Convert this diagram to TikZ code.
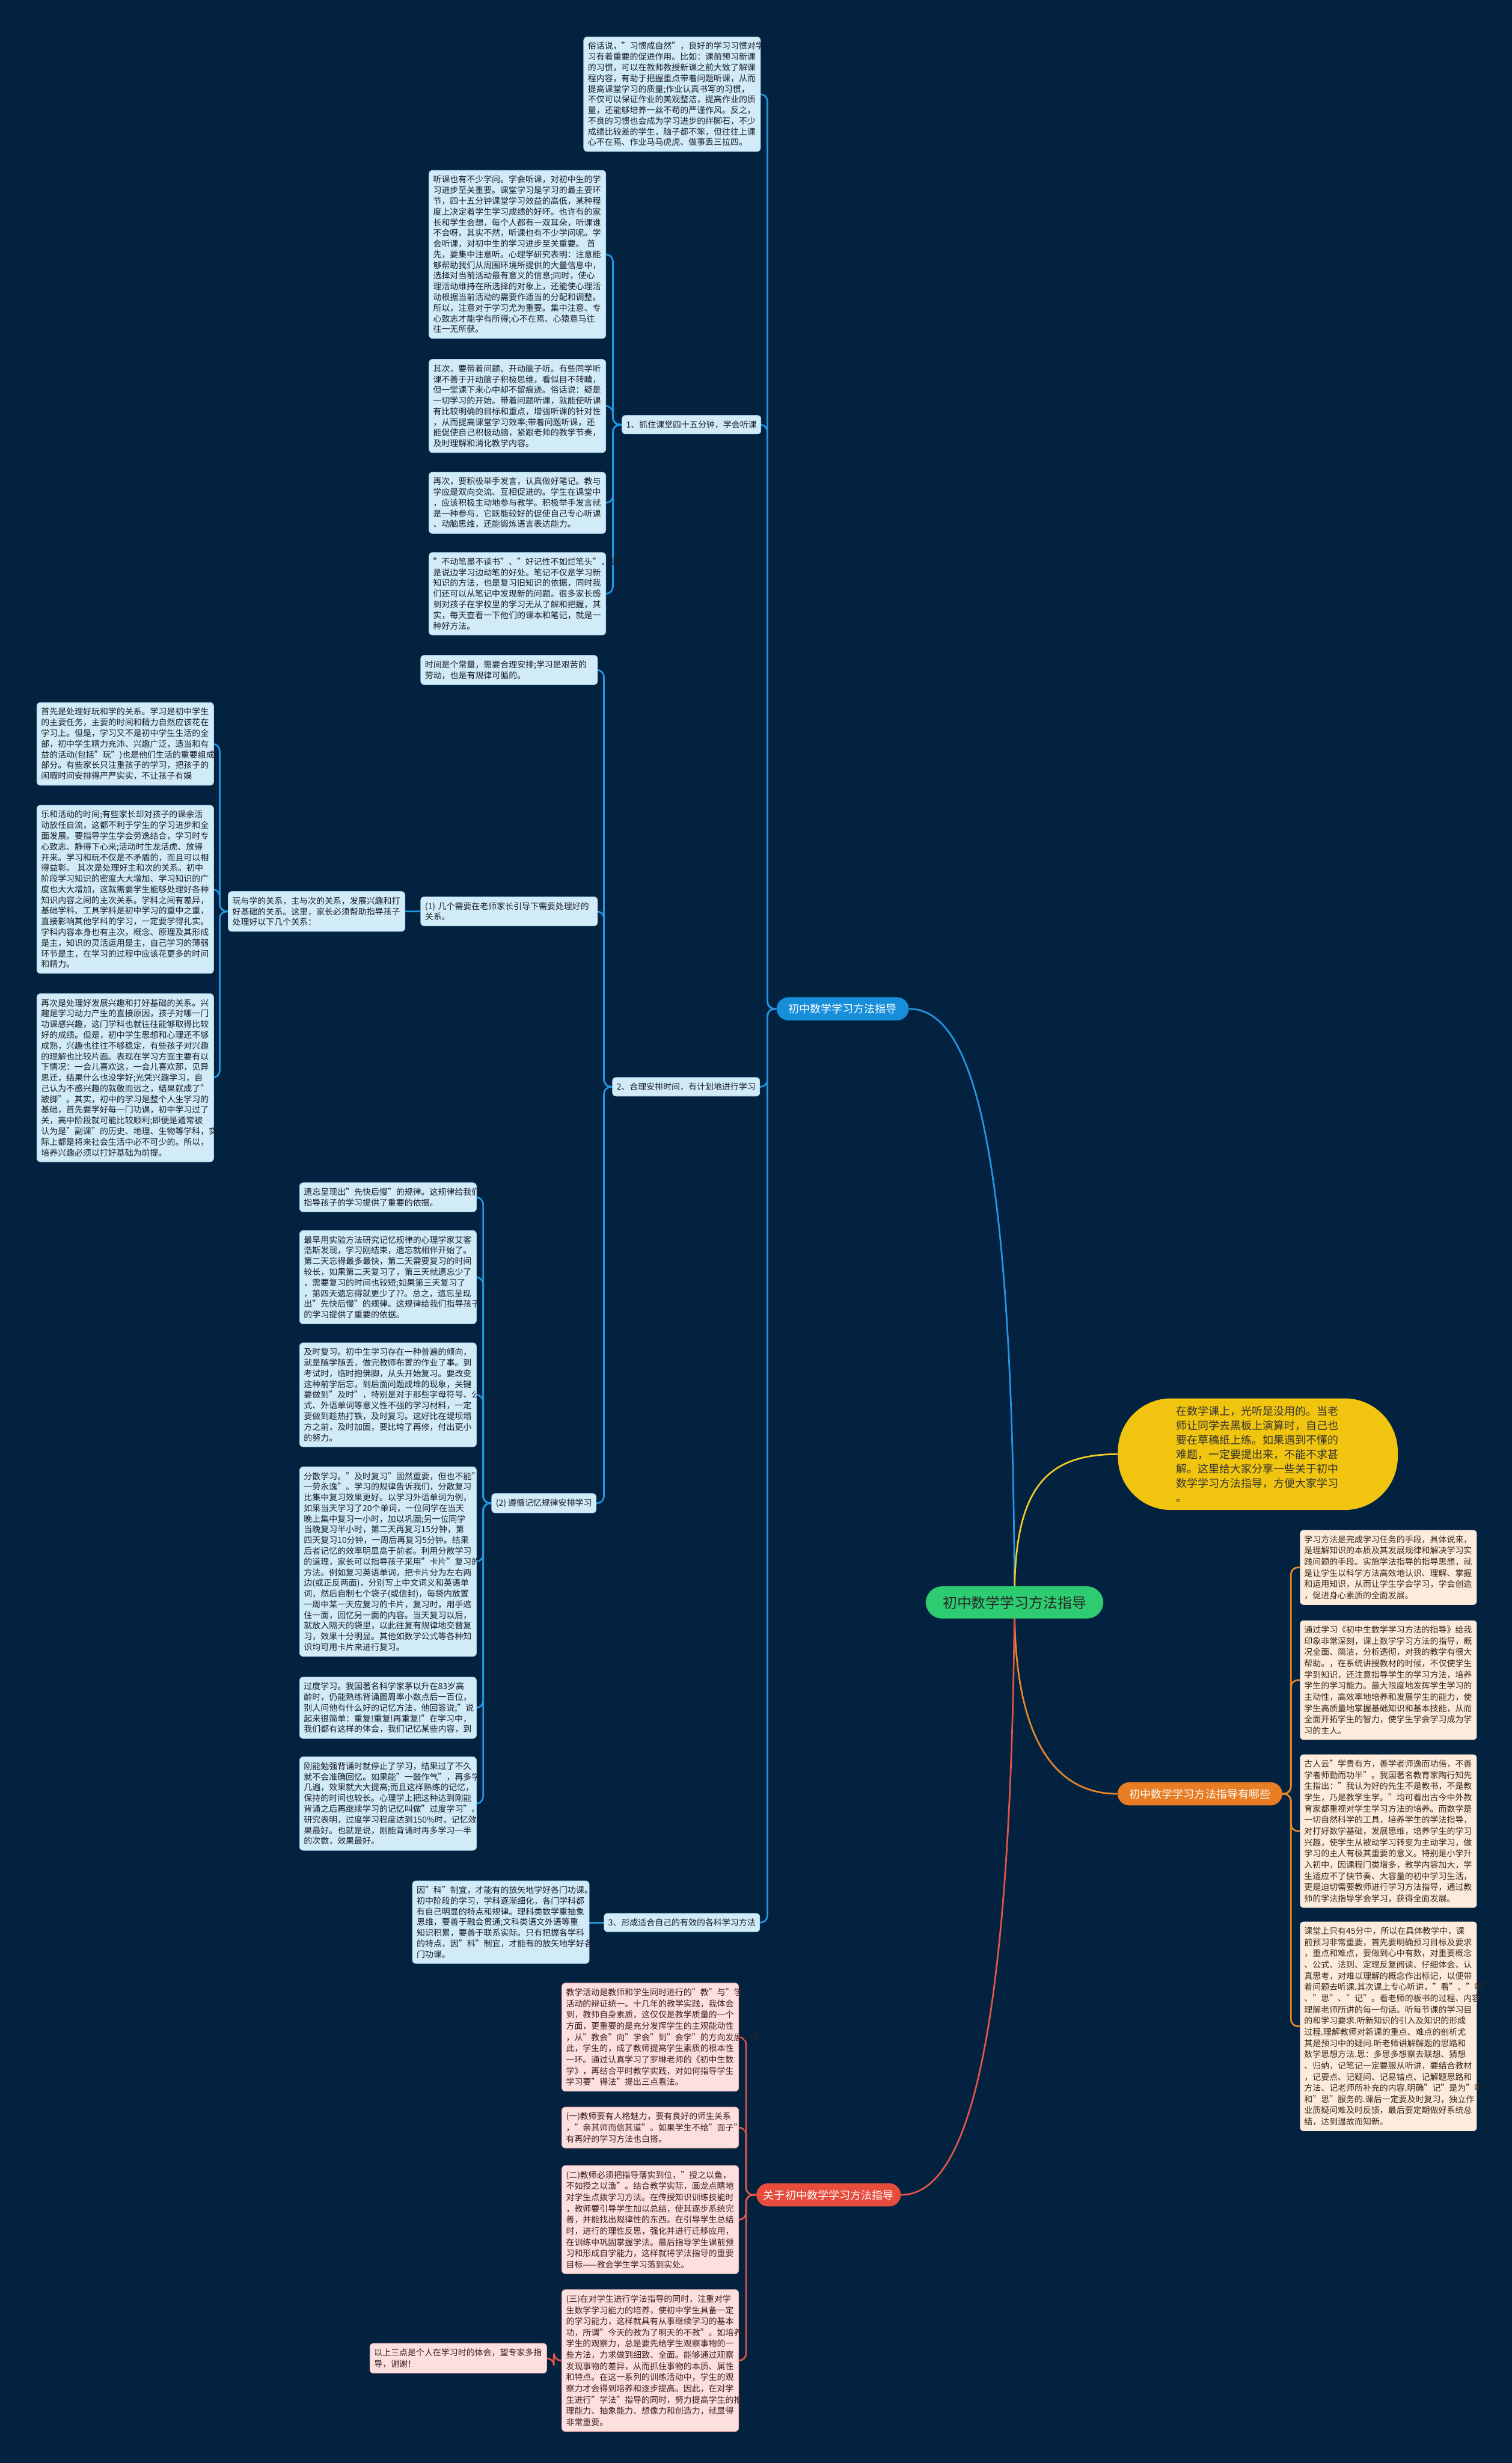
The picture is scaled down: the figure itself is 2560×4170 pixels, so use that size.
\documentclass[tikz,border=0pt]{standalone}
\usepackage{fontspec}
\setmainfont{Noto Sans CJK SC}
\usetikzlibrary{backgrounds}
\definecolor{bgc}{RGB}{3,34,64}
\definecolor{bfill}{RGB}{209,235,248}
\definecolor{bdraw}{RGB}{170,210,235}
\definecolor{btext}{RGB}{25,30,40}
\definecolor{bline}{RGB}{35,150,225}
\definecolor{bnode}{RGB}{22,142,218}
\definecolor{gnode}{RGB}{46,204,113}
\definecolor{ynode}{RGB}{241,196,15}
\definecolor{yline}{RGB}{240,200,40}
\definecolor{onode}{RGB}{232,125,35}
\definecolor{oline}{RGB}{230,135,45}
\definecolor{rnode}{RGB}{231,76,60}
\definecolor{rline}{RGB}{225,85,70}
\definecolor{rfill}{RGB}{253,236,220}
\definecolor{rtext}{RGB}{55,40,25}
\definecolor{pfill}{RGB}{252,224,222}
\definecolor{pdraw}{RGB}{235,175,170}
\definecolor{ptext}{RGB}{60,30,30}
\tikzset{
 boxbase/.style={rounded corners=3pt, inner xsep=3.6pt, inner ysep=4.5pt, line width=0.4pt},
 bbox/.style={boxbase, draw=bdraw, fill=bfill, text=btext, align=left, text width=142.5pt, anchor=north west, font=\fontsize{7.1pt}{9.05pt}\selectfont},
 blab/.style={boxbase, draw=bdraw, fill=bfill, text=btext, anchor=east, font=\fontsize{7.1pt}{9.05pt}\selectfont},
 rbox/.style={boxbase, fill=rfill, text=rtext, align=left, text width=142.5pt, anchor=north west, font=\fontsize{7.1pt}{9.5pt}\selectfont},
 pbox/.style={boxbase, draw=pdraw, fill=pfill, text=ptext, align=left, text width=142.5pt, anchor=north west, font=\fontsize{7.1pt}{9.5pt}\selectfont},
 topic/.style={rounded corners=10pt, inner xsep=10pt, inner ysep=5.5pt, text=white, font=\fontsize{9.2pt}{11pt}\selectfont},
 bconn/.style={draw=bline, line width=1.4pt, rounded corners=6pt},
 oconn/.style={draw=oline, line width=1.4pt, rounded corners=6pt},
 rconn/.style={draw=rline, line width=1.4pt, rounded corners=6pt},
 yconn/.style={draw=yline, line width=1.4pt},
}
\begin{document}
\begin{tikzpicture}[x=0.5pt,y=-0.5pt]
\useasboundingbox (0,0) rectangle (2560,4170);
% ---------- central and main topics
\node[rounded corners=14pt, fill=gnode, text=black!85, inner xsep=14.5pt, inner ysep=8pt, font=\fontsize{12.15pt}{14pt}\selectfont] (C) at (1718,2713) {初中数学学习方法指导};
\node[topic, fill=bnode] (BL) at (1427,1708) {初中数学学习方法指导};
\node[topic, fill=onode] (OR) at (2032,3037) {初中数学学习方法指导有哪些};
\node[topic, fill=rnode, anchor=east, inner xsep=6pt] (RD) at (1526,3716) {关于初中数学学习方法指导};
\node[fill=ynode, rounded corners=45pt, minimum width=237pt, minimum height=94.5pt, text width=138pt, align=left, text=black!80, font=\fontsize{9.15pt}{12.25pt}\selectfont] (Y) at (2130,2462) {在数学课上，光听是没用的。当老\\
师让同学去黑板上演算时，自己也\\
要在草稿纸上练。如果遇到不懂的\\
难题，一定要提出来，不能不求甚\\
解。这里给大家分享一些关于初中\\
数学学习方法指导，方便大家学习\\
。};
% ---------- blue branch
\node[bbox] (T) at (988,62) {俗话说，"习惯成自然"，良好的学习习惯对学\\
习有着重要的促进作用。比如：课前预习新课\\
的习惯，可以在教师教授新课之前大致了解课\\
程内容，有助于把握重点带着问题听课，从而\\
提高课堂学习的质量;作业认真书写的习惯，\\
不仅可以保证作业的美观整洁，提高作业的质\\
量，还能够培养一丝不苟的严谨作风。反之，\\
不良的习惯也会成为学习进步的绊脚石，不少\\
成绩比较差的学生，脑子都不笨，但往往上课\\
心不在焉、作业马马虎虎、做事丢三拉四。};
\node[blab] (LA) at (1289,719) {1、抓住课堂四十五分钟，学会听课};
\node[bbox] (B1) at (726,288) {听课也有不少学问。学会听课，对初中生的学\\
习进步至关重要。课堂学习是学习的最主要环\\
节，四十五分钟课堂学习效益的高低，某种程\\
度上决定着学生学习成绩的好坏。也许有的家\\
长和学生会想，每个人都有一双耳朵，听课谁\\
不会呀。其实不然，听课也有不少学问呢。学\\
会听课，对初中生的学习进步至关重要。 首\\
先，要集中注意听。心理学研究表明：注意能\\
够帮助我们从周围环境所提供的大量信息中，\\
选择对当前活动最有意义的信息;同时，使心\\
理活动维持在所选择的对象上，还能使心理活\\
动根据当前活动的需要作适当的分配和调整。\\
所以，注意对于学习尤为重要。集中注意、专\\
心致志才能学有所得;心不在焉、心猿意马往\\
往一无所获。};
\node[bbox] (B2) at (726,608) {其次，要带着问题、开动脑子听。有些同学听\\
课不善于开动脑子积极思维，看似目不转睛，\\
但一堂课下来心中却不留痕迹。俗话说：疑是\\
一切学习的开始。带着问题听课，就能使听课\\
有比较明确的目标和重点，增强听课的针对性\\
，从而提高课堂学习效率;带着问题听课，还\\
能促使自己积极动脑，紧跟老师的教学节奏，\\
及时理解和消化教学内容。};
\node[bbox] (B3) at (726,799) {再次，要积极举手发言，认真做好笔记。教与\\
学应是双向交流、互相促进的。学生在课堂中\\
，应该积极主动地参与教学。积极举手发言就\\
是一种参与，它既能较好的促使自己专心听课\\
、动脑思维，还能锻炼语言表达能力。};
\node[bbox] (B4) at (726,935) {"不动笔墨不读书"、"好记性不如烂笔头"，都\\
是说边学习边动笔的好处。笔记不仅是学习新\\
知识的方法，也是复习旧知识的依据，同时我\\
们还可以从笔记中发现新的问题。很多家长感\\
到对孩子在学校里的学习无从了解和把握，其\\
实，每天查看一下他们的课本和笔记，就是一\\
种好方法。};
\node[blab] (LB) at (1287,1840) {2、合理安排时间，有计划地进行学习};
\node[bbox] (TM) at (712,1109) {时间是个常量，需要合理安排;学习是艰苦的\\
劳动，也是有规律可循的。};
\node[bbox] (S1) at (712,1518) {(1) 几个需要在老师家长引导下需要处理好的\\
关系。};
\node[bbox] (WX) at (386,1509) {玩与学的关系，主与次的关系，发展兴趣和打\\
好基础的关系。这里，家长必须帮助指导孩子\\
处理好以下几个关系：};
\node[bbox] (L1) at (62,1189) {首先是处理好玩和学的关系。学习是初中学生\\
的主要任务，主要的时间和精力自然应该花在\\
学习上。但是，学习又不是初中学生生活的全\\
部，初中学生精力充沛、兴趣广泛，适当和有\\
益的活动(包括"玩")也是他们生活的重要组成\\
部分。有些家长只注重孩子的学习，把孩子的\\
闲暇时间安排得严严实实，不让孩子有娱};
\node[bbox] (L2) at (62,1363) {乐和活动的时间;有些家长却对孩子的课余活\\
动放任自流，这都不利于学生的学习进步和全\\
面发展。要指导学生学会劳逸结合，学习时专\\
心致志、静得下心来;活动时生龙活虎、放得\\
开来。学习和玩不仅是不矛盾的，而且可以相\\
得益彰。 其次是处理好主和次的关系。初中\\
阶段学习知识的密度大大增加、学习知识的广\\
度也大大增加，这就需要学生能够处理好各种\\
知识内容之间的主次关系。学科之间有差异，\\
基础学科、工具学科是初中学习的重中之重，\\
直接影响其他学科的学习，一定要学得扎实。\\
学科内容本身也有主次，概念、原理及其形成\\
是主，知识的灵活运用是主，自己学习的薄弱\\
环节是主，在学习的过程中应该花更多的时间\\
和精力。};
\node[bbox] (L3) at (62,1682) {再次是处理好发展兴趣和打好基础的关系。兴\\
趣是学习动力产生的直接原因，孩子对哪一门\\
功课感兴趣，这门学科也就往往能够取得比较\\
好的成绩。但是，初中学生思想和心理还不够\\
成熟，兴趣也往往不够稳定，有些孩子对兴趣\\
的理解也比较片面。表现在学习方面主要有以\\
下情况：一会儿喜欢这，一会儿喜欢那，见异\\
思迁，结果什么也没学好;光凭兴趣学习，自\\
己认为不感兴趣的就敬而远之，结果就成了"\\
跛脚"。其实，初中的学习是整个人生学习的\\
基础，首先要学好每一门功课，初中学习过了\\
关，高中阶段就可能比较顺利;即便是通常被\\
认为是"副课"的历史、地理、生物等学科，实\\
际上都是将来社会生活中必不可少的。所以，\\
培养兴趣必须以打好基础为前提。};
\node[blab] (S2) at (1010,2545) {(2) 遵循记忆规律安排学习};
\node[bbox] (M1) at (507,2002) {遗忘呈现出"先快后慢"的规律。这规律给我们\\
指导孩子的学习提供了重要的依据。};
\node[bbox] (M2) at (507,2083) {最早用实验方法研究记忆规律的心理学家艾客\\
浩斯发现，学习刚结束，遗忘就相伴开始了。\\
第二天忘得最多最快，第二天需要复习的时间\\
较长，如果第二天复习了，第三天就遗忘少了\\
，需要复习的时间也较短;如果第三天复习了\\
，第四天遗忘得就更少了??。总之，遗忘呈现\\
出"先快后慢"的规律。这规律给我们指导孩子\\
的学习提供了重要的依据。};
\node[bbox] (M3) at (507,2273) {及时复习。初中生学习存在一种普遍的倾向，\\
就是随学随丢，做完教师布置的作业了事。到\\
考试时，临时抱佛脚，从头开始复习。要改变\\
这种前学后忘，到后面问题成堆的现象，关键\\
要做到"及时"，特别是对于那些字母符号、公\\
式、外语单词等意义性不强的学习材料，一定\\
要做到趁热打铁，及时复习。这好比在堤坝塌\\
方之前，及时加固，要比垮了再修，付出更小\\
的努力。};
\node[bbox] (M4) at (507,2483) {分散学习。"及时复习"固然重要，但也不能"\\
一劳永逸"。学习的规律告诉我们，分散复习\\
比集中复习效果更好。以学习外语单词为例，\\
如果当天学习了20个单词，一位同学在当天\\
晚上集中复习一小时，加以巩固;另一位同学\\
当晚复习半小时，第二天再复习15分钟，第\\
四天复习10分钟，一周后再复习5分钟。结果\\
后者记忆的效率明显高于前者。利用分散学习\\
的道理，家长可以指导孩子采用"卡片"复习的\\
方法。例如复习英语单词，把卡片分为左右两\\
边(或正反两面)，分别写上中文词义和英语单\\
词，然后自制七个袋子(或信封)，每袋内放置\\
一周中某一天应复习的卡片，复习时，用手遮\\
住一面，回忆另一面的内容。当天复习以后，\\
就放入隔天的袋里，以此往复有规律地交替复\\
习，效果十分明显。其他如数学公式等各种知\\
识均可用卡片来进行复习。};
\node[bbox] (M5) at (507,2839) {过度学习。我国著名科学家茅以升在83岁高\\
龄时，仍能熟练背诵圆周率小数点后一百位，\\
别人问他有什么好的记忆方法，他回答说;"说\\
起来很简单：重复!重复!再重复!"在学习中，\\
我们都有这样的体会，我们记忆某些内容，到};
\node[bbox] (M6) at (507,2974) {刚能勉强背诵时就停止了学习，结果过了不久\\
就不会准确回忆。如果能"一鼓作气"，再多学\\
几遍，效果就大大提高;而且这样熟练的记忆，\\
保持的时间也较长。心理学上把这种达到刚能\\
背诵之后再继续学习的记忆叫做"过度学习"。\\
研究表明，过度学习程度达到150\%时，记忆效\\
果最好。也就是说，刚能背诵时再多学习一半\\
的次数，效果最好。};
\node[blab] (LC) at (1287,3255) {3、形成适合自己的有效的各科学习方法};
\node[bbox] (K) at (698,3184) {因"科"制宜，才能有的放矢地学好各门功课。\\
初中阶段的学习，学科逐渐细化，各门学科都\\
有自己明显的特点和规律。理科类数学重抽象\\
思维，要善于融会贯通;文科类语文外语等重\\
知识积累，要善于联系实际。只有把握各学科\\
的特点，因"科"制宜，才能有的放矢地学好各\\
门功课。};
% ---------- orange branch
\node[rbox] (R1) at (2201,2590) {学习方法是完成学习任务的手段，具体说来，\\
是理解知识的本质及其发展规律和解决学习实\\
践问题的手段。实施学法指导的指导思想，就\\
是让学生以科学方法高效地认识、理解、掌握\\
和运用知识，从而让学生学会学习，学会创造\\
，促进身心素质的全面发展。};
\node[rbox] (R2) at (2201,2743) {通过学习《初中生数学学习方法的指导》给我\\
印象非常深刻，课上数学学习方法的指导，概\\
况全面、简洁，分析透彻，对我的教学有很大\\
帮助。，在系统讲授教材的时候，不仅使学生\\
学到知识，还注意指导学生的学习方法，培养\\
学生的学习能力。最大限度地发挥学生学习的\\
主动性，高效率地培养和发展学生的能力，使\\
学生高质量地掌握基础知识和基本技能，从而\\
全面开拓学生的智力，使学生学会学习成为学\\
习的主人。};
\node[rbox] (R3) at (2201,2970) {古人云"学贵有方，善学者师逸而功倍，不善\\
学者师勤而功半"。我国著名教育家陶行知先\\
生指出："我认为好的先生不是教书，不是教\\
学生，乃是教学生学。"均可看出古今中外教\\
育家都重视对学生学习方法的培养。而数学是\\
一切自然科学的工具，培养学生的学法指导，\\
对打好数学基础，发展思维，培养学生的学习\\
兴趣，使学生从被动学习转变为主动学习，做\\
学习的主人有极其重要的意义。特别是小学升\\
入初中，因课程门类增多，教学内容加大，学\\
生适应不了快节奏、大容量的初中学习生活，\\
更是迫切需要教师进行学习方法指导，通过教\\
师的学法指导学会学习，获得全面发展。};
\node[rbox] (R4) at (2201,3253) {课堂上只有45分中，所以在具体教学中，课\\
前预习非常重要，首先要明确预习目标及要求\\
，重点和难点，要做到心中有数，对重要概念\\
、公式、法则、定理反复阅读、仔细体会、认\\
真思考，对难以理解的概念作出标记，以便带\\
着问题去听课.其次课上专心听讲，"看"、"听"\\
、"思"、"记"。看老师的板书的过程、内容、\\
理解老师所讲的每一句话。听每节课的学习目\\
的和学习要求.听新知识的引入及知识的形成\\
过程.理解教师对新课的重点、难点的剖析尤\\
其是预习中的疑问.听老师讲解解题的思路和\\
数学思想方法.思：多思多想察去联想、猜想\\
、归纳，记笔记一定要服从听讲，要结合教材\\
，记要点、记疑问、记易错点、记解题思路和\\
方法、记老师所补充的内容.明确"记"是为"听"\\
和"思"服务的.课后一定要及时复习，独立作\\
业质疑问难及时反馈，最后要定期做好系统总\\
结，达到温故而知新。};
% ---------- red branch
\node[pbox] (P1) at (951,3357) {教学活动是教师和学生同时进行的"教"与"学"\\
活动的辩证统一。十几年的教学实践，我体会\\
到，教师自身素质，这仅仅是教学质量的一个\\
方面，更重要的是充分发挥学生的主观能动性\\
，从"教会"向"学会"到"会学"的方向发展，因\\
此，学生的，成了教师提高学生素质的根本性\\
一环。通过认真学习了罗琳老师的《初中生数\\
学》，再结合平时教学实践，对如何指导学生\\
学习要"得法"提出三点看法。};
\node[pbox] (P2) at (951,3567) {(一)教师要有人格魅力，要有良好的师生关系\\
，"亲其师而信其道"。如果学生不给"面子"，\\
有再好的学习方法也白搭。};
\node[pbox] (P3) at (951,3666) {(二)教师必须把指导落实到位，"授之以鱼，\\
不如授之以渔"。结合教学实际，画龙点睛地\\
对学生点拨学习方法。在传授知识训练技能时\\
，教师要引导学生加以总结，使其逐步系统完\\
善，并能找出规律性的东西。在引导学生总结\\
时，进行的理性反思，强化并进行迁移应用，\\
在训练中巩固掌握学法。最后指导学生课前预\\
习和形成自学能力，这样就将学法指导的重要\\
目标——教会学生学习落到实处。};
\node[pbox] (P4) at (951,3876) {(三)在对学生进行学法指导的同时，注重对学\\
生数学学习能力的培养，使初中学生具备一定\\
的学习能力，这样就具有从事继续学习的基本\\
功，所谓"今天的教为了明天的不教"。如培养\\
学生的观察力，总是要先给学生观察事物的一\\
些方法，力求做到细致、全面。能够通过观察\\
发现事物的差异，从而抓住事物的本质、属性\\
和特点。在这一系列的训练活动中，学生的观\\
察力才会得到培养和逐步提高。因此，在对学\\
生进行"学法"指导的同时，努力提高学生的推\\
理能力、抽象能力、想像力和创造力，就显得\\
非常重要。};
\node[pbox] (Q) at (626,3967) {以上三点是个人在学习时的体会，望专家多指\\
导，谢谢！};
% ---------- connectors
\begin{scope}[on background layer]
\fill[bgc] (0,0) rectangle (2560,4170);
\draw[bconn] (BL.east) .. controls (1650,1708) and (1716,1950) .. (C.center);
\draw[yconn] (C.center) .. controls (1716,2520) and (1770,2462) .. (Y.west);
\draw[oconn] (C.center) .. controls (1716,2950) and (1790,3037) .. (OR.west);
\draw[rconn] (C.center) .. controls (1712,3450) and (1640,3716) .. (RD.east);
\foreach \c in {T,LA,LB,LC} \draw[bconn] (BL.west) -- ++(-15,0) |- (\c.east);
\foreach \c in {B1,B2,B3,B4} \draw[bconn] (LA.west) -- ++(-15,0) |- (\c.east);
\foreach \c in {TM,S1,S2} \draw[bconn] (LB.west) -- ++(-14,0) |- (\c.east);
\draw[bconn] (S1.west) -- (WX.east);
\foreach \c in {L1,L2,L3} \draw[bconn] (WX.west) -- ++(-14,0) |- (\c.east);
\foreach \c in {M1,M2,M3,M4,M5,M6} \draw[bconn] (S2.west) -- ++(-14,0) |- (\c.east);
\draw[bconn] (LC.west) -- (LC.west -| K.east);
\foreach \c in {R1,R2,R3,R4} \draw[oconn] (OR.east) -- ++(14,0) |- (\c.west);
\foreach \c in {P1,P2,P3,P4} \draw[rconn] (RD.west) -- ++(-17,0) |- (\c.east);
\draw[rconn] (P4.west) -- ++(-13,0) |- (Q.east);
\end{scope}
\end{tikzpicture}
\end{document}
